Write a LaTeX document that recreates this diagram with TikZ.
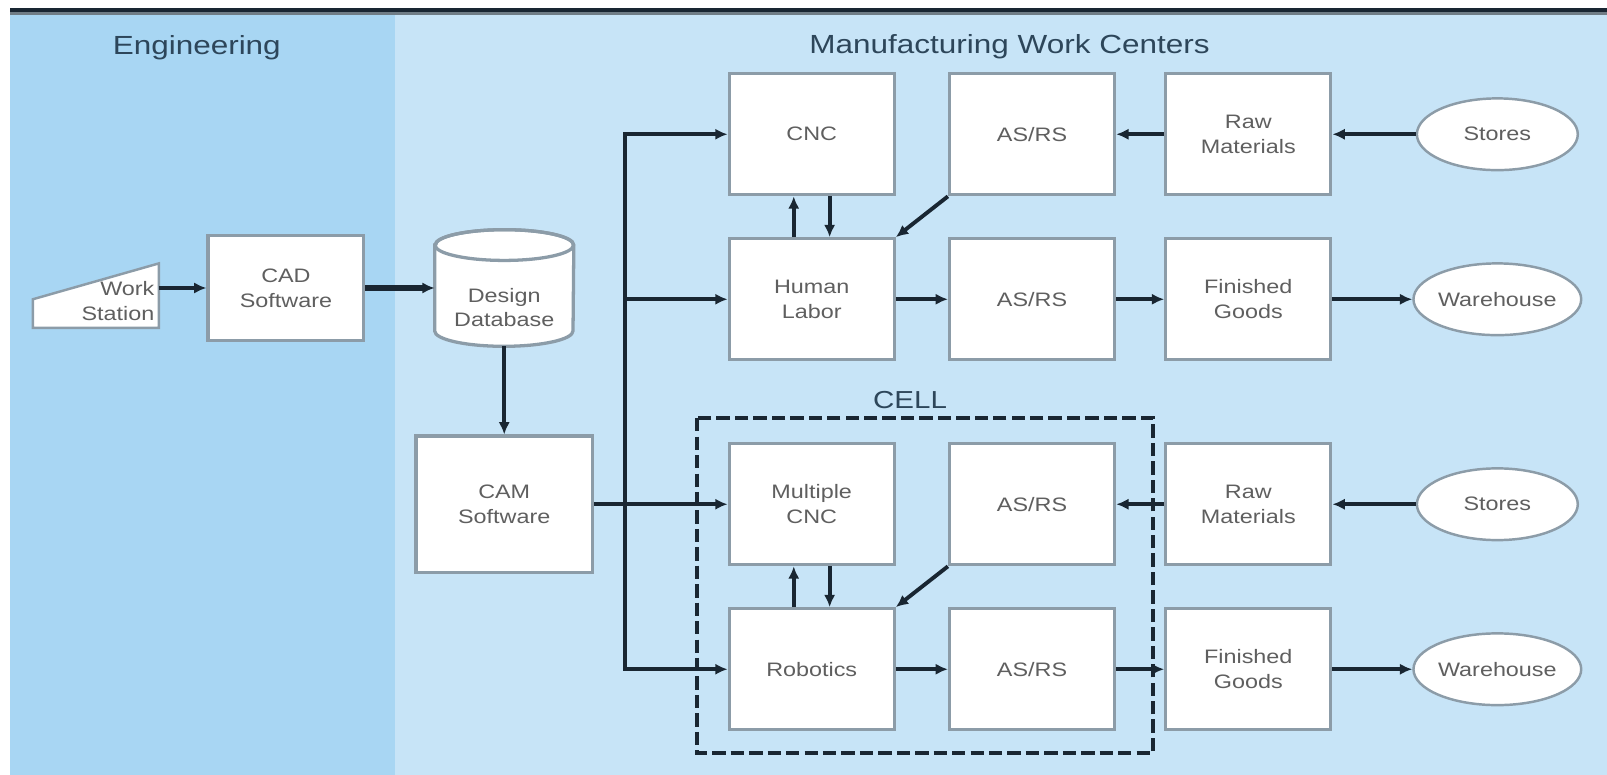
\documentclass[tikz,border=0pt]{standalone}
\usepackage{fontspec}
\setmainfont{Liberation Sans}[FakeStretch=1.2]
\usetikzlibrary{shapes.geometric,arrows.meta}

\definecolor{engblue}{HTML}{A8D6F3}
\definecolor{mfgblue}{HTML}{C7E4F7}
\definecolor{framegray}{HTML}{8C9CA8}
\definecolor{labelgray}{HTML}{5F5F5F}
\definecolor{headblue}{HTML}{2D465A}
\definecolor{linkdark}{HTML}{192632}

\tikzset{
    block/.style={draw=framegray, line width=1.6pt, fill=white, minimum width=80.5pt,
        minimum height=59pt, align=center, text=labelgray, inner sep=2pt,
        font=\fontsize{9.5}{12}\selectfont},
    oval/.style={ellipse, draw=framegray, line width=1.2pt, fill=white, minimum width=78.5pt,
        minimum height=35pt, text=labelgray, inner sep=0pt, font=\fontsize{9.5}{12}\selectfont},
    flow/.style={draw=linkdark, line width=1.9pt, -{Latex[length=6pt,width=5.5pt]}},
    head/.style={text=headblue, font=\fontsize{12.8}{15}\selectfont},
}

\begin{document}
\begin{tikzpicture}[x=0.5pt,y=-0.5pt]
    \useasboundingbox (0,0) rectangle (1568,756);
    % panels
    \fill[white] (0,0) rectangle (1568,756);
    \fill[mfgblue] (385,15) rectangle (1568,756);
    \fill[engblue] (10,15) rectangle (385,756);
    \fill[linkdark] (10,8) rectangle (1568,12);
    \fill[framegray!80!black] (10,12) rectangle (1568,15);

    \node[head] (eng) at (192,47) {Engineering};
    \node[head] (mfg) at (985,46) {Manufacturing Work Centers};

    % engineering side
    \draw[draw=framegray, line width=1.2pt, fill=white] (32,292) -- (155,257) -- (155,320) -- (32,320) -- cycle;
    \node[text=labelgray, font=\fontsize{9.5}{12}\selectfont, align=right, anchor=east, inner sep=2pt] (ws) at (155,294) {Work\\Station};
    \node[block, minimum width=76pt, minimum height=51pt] (cad) at (279,281) {CAD\\Software};

    \node[minimum width=67.5pt, minimum height=56.5pt, inner sep=0pt] (db) at (492,281) {};
    \draw[draw=framegray, line width=1.6pt, fill=white] ([yshift=-7.5pt]db.north west) -- ([yshift=7.5pt]db.south west)
        arc[start angle=180, end angle=360, x radius=33.75pt, y radius=7.5pt] -- ([yshift=-7.5pt]db.north east)
        arc[start angle=0, end angle=180, x radius=33.75pt, y radius=7.5pt] -- cycle;
    \draw[draw=framegray, line width=1.6pt] ([yshift=-7.5pt]db.north) ellipse[x radius=33.75pt, y radius=7.5pt];
    \node[text=labelgray, font=\fontsize{9.5}{12}\selectfont, align=center] (dbtext) at (492,300) {Design\\Database};

    \node[block, minimum width=86pt, minimum height=66.5pt] (cam) at (492,492) {CAM\\Software};

    % work centers
    \node[block] (cnc) at (792,131) {CNC};
    \node[block] (asrsA) at (1007,131) {AS/RS};
    \node[block] (rawA) at (1218,131) {Raw\\Materials};
    \node[oval] (storeA) at (1461,131) {Stores};

    \node[block] (labor) at (792,292) {Human\\Labor};
    \node[block] (asrsB) at (1007,292) {AS/RS};
    \node[block] (goodsA) at (1218,292) {Finished\\Goods};
    \node[oval] (whA) at (1461,292) {Warehouse};

    \draw[draw=linkdark, line width=2pt, dash pattern=on 6.5pt off 2.5pt] (680,408) rectangle (1125,735);
    \node[text=headblue, font=\fontsize{12}{14}\selectfont] (cell) at (888,390) {CELL};

    \node[block] (mcnc) at (792,492) {Multiple\\CNC};
    \node[block] (asrsC) at (1007,492) {AS/RS};
    \node[block] (rawB) at (1218,492) {Raw\\Materials};
    \node[oval] (storeB) at (1461,492) {Stores};

    \node[block] (robot) at (792,653) {Robotics};
    \node[block] (asrsD) at (1007,653) {AS/RS};
    \node[block] (goodsB) at (1218,653) {Finished\\Goods};
    \node[oval] (whB) at (1461,653) {Warehouse};

    % connectors
    \draw[flow, line width=2.2pt] (ws.east |- cad.west) -- (cad.west);
    \draw[flow, line width=3pt] (cad.east) -- (db.west);
    \draw[flow] (db.south) -- (cam.north);

    \coordinate (bustop) at (610,131);
    \coordinate (busbot) at (610,653);
    \draw[flow, {Latex[length=6pt,width=5.5pt]}-{Latex[length=6pt,width=5.5pt]}] (cnc.west) -- (bustop) -- (busbot) -- (robot.west);
    \draw[flow] (bustop |- labor.west) -- (labor.west);
    \draw[flow] (cam.east) -- (mcnc.west);

    \draw[flow] ([xshift=-8.75pt]labor.north) -- ([xshift=-8.75pt]cnc.south);
    \draw[flow] ([xshift=8.75pt]cnc.south) -- ([xshift=8.75pt]labor.north);
    \draw[flow] (asrsA.south west) -- (labor.north east);
    \draw[flow] (rawA.west) -- (asrsA.east);
    \draw[flow] (storeA.west) -- (rawA.east);
    \draw[flow] (labor.east) -- (asrsB.west);
    \draw[flow] (asrsB.east) -- (goodsA.west);
    \draw[flow] (goodsA.east) -- (whA.west);

    \draw[flow] ([xshift=-8.75pt]robot.north) -- ([xshift=-8.75pt]mcnc.south);
    \draw[flow] ([xshift=8.75pt]mcnc.south) -- ([xshift=8.75pt]robot.north);
    \draw[flow] (asrsC.south west) -- (robot.north east);
    \draw[flow] (rawB.west) -- (asrsC.east);
    \draw[flow] (storeB.west) -- (rawB.east);
    \draw[flow] (robot.east) -- (asrsD.west);
    \draw[flow] (asrsD.east) -- (goodsB.west);
    \draw[flow] (goodsB.east) -- (whB.west);
\end{tikzpicture}
\end{document}
